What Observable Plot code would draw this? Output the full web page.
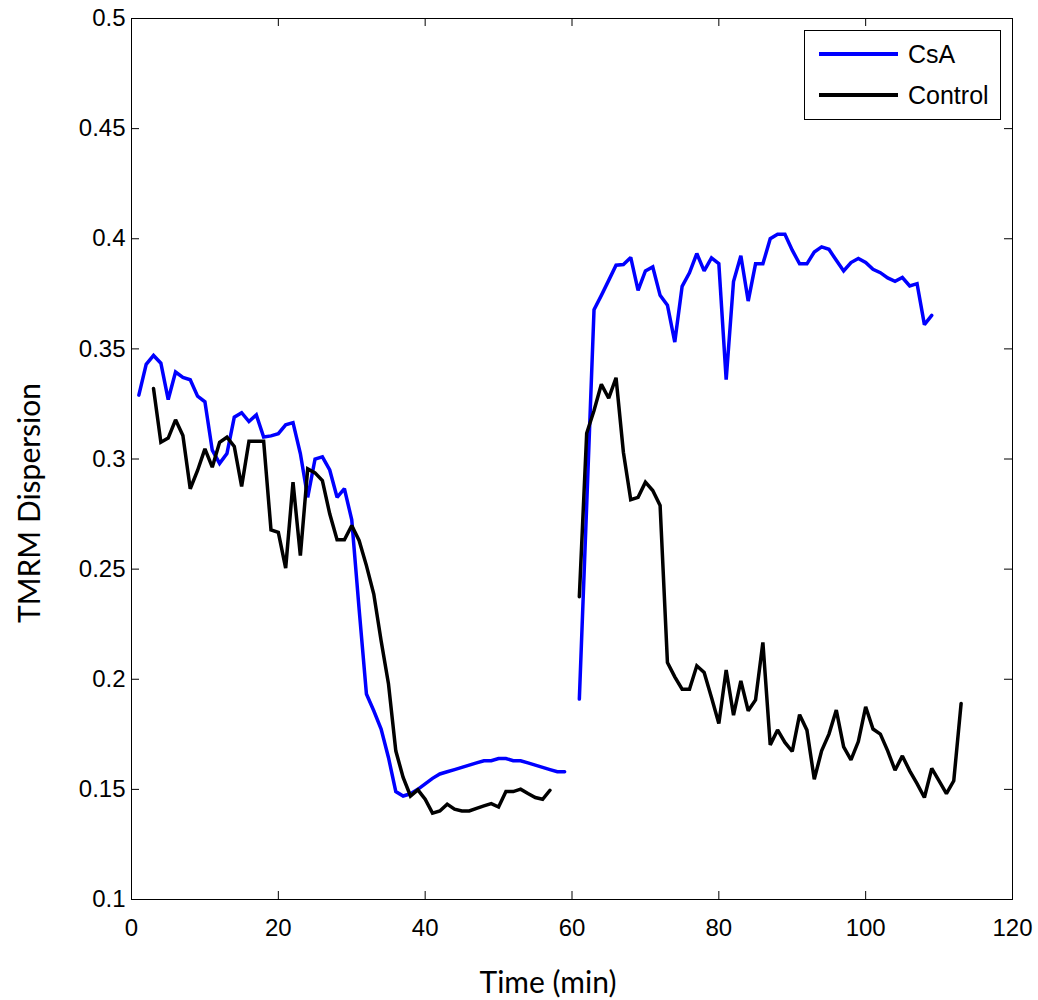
<!DOCTYPE html>
<html>
<head>
<meta charset="utf-8">
<script src="https://cdn.jsdelivr.net/npm/d3@7"></script>
<script src="https://cdn.jsdelivr.net/npm/@observablehq/plot@0.6"></script>
<style>
  body { margin: 0; background: #fff; }
  #wrap { position: relative; width: 1038px; height: 1000px; }
  .legend { position: absolute; left: 804px; top: 30px; width: 197px; height: 90px; border: 1px solid #000; box-sizing: border-box; background: #fff; font-family: "Liberation Sans", Arial, sans-serif; font-size: 25px; }
  .legend .row { position: absolute; left: 14px; height: 30px; display: flex; align-items: center; }
  .legend .sw { width: 79px; height: 3.5px; margin-right: 10px; }
</style>
</head>
<body>
<div id="wrap"></div>
<script>
const series = ["CsA", "Control"];
const colors = ["#0000ff", "#000000"];
const xTicks = [0, 20, 40, 60, 80, 100, 120];
const yTicks = [0.1, 0.15, 0.2, 0.25, 0.3, 0.35, 0.4, 0.45, 0.5];
const yTickLabels = ["0.1", "0.15", "0.2", "0.25", "0.3", "0.35", "0.4", "0.45", "0.5"];
const xLabel = "Time (min)";
const yLabel = "TMRM Dispersion";

// CsA, first recording (min 1-59)
const csaTime1 = [1,2,3,4,5,6,7,8,9,10,11,12,13,14,15,16,17,18,19,20,21,22,23,24,25,26,27,28,29,30,31,32,33,34,35,36,37,38,39,40,41,42,43,44,45,46,47,48,49,50,51,52,53,54,55,56,57,58,59];
const csaValue1 = [0.329,0.343,0.347,0.3435,0.327,0.3395,0.337,0.336,0.3285,0.326,0.304,0.298,0.3025,0.319,0.321,0.317,0.320,0.310,0.3105,0.3115,0.3155,0.3165,0.3025,0.2826,0.300,0.301,0.295,0.2826,0.2865,0.2724,0.232,0.1933,0.1857,0.1774,0.1645,0.149,0.147,0.148,0.150,0.1525,0.155,0.157,0.158,0.159,0.160,0.161,0.162,0.163,0.163,0.164,0.164,0.163,0.163,0.162,0.161,0.160,0.159,0.158,0.158];
// CsA, second recording (min 61-109)
const csaTime2 = [61,62,63,64,65,66,67,68,69,70,71,72,73,74,75,76,77,78,79,80,81,82,83,84,85,86,87,88,89,90,91,92,93,94,95,96,97,98,99,100,101,102,103,104,105,106,107,108,109];
const csaValue2 = [0.191,0.279,0.3678,0.3743,0.3811,0.388,0.3883,0.3915,0.3766,0.3854,0.3872,0.3743,0.3698,0.3531,0.3784,0.3845,0.3933,0.3854,0.3913,0.3887,0.336,0.3806,0.3923,0.3717,0.3886,0.3886,0.400,0.402,0.402,0.3948,0.3886,0.3886,0.394,0.3963,0.3952,0.3902,0.3854,0.3892,0.391,0.3892,0.3861,0.3846,0.3822,0.3807,0.3824,0.3786,0.3796,0.361,0.3652];

// Control, first recording (min 3-57)
const controlTime1 = [3,4,5,6,7,8,9,10,11,12,13,14,15,16,17,18,19,20,21,22,23,24,25,26,27,28,29,30,31,32,33,34,35,36,37,38,39,40,41,42,43,44,45,46,47,48,49,50,51,52,53,54,55,56,57];
const controlValue1 = [0.332,0.3076,0.3095,0.3178,0.3107,0.2865,0.2948,0.3046,0.2963,0.3076,0.3099,0.3057,0.2875,0.3081,0.3081,0.3081,0.2678,0.2667,0.2505,0.2895,0.2561,0.2955,0.2937,0.2902,0.2751,0.2633,0.2633,0.2698,0.2630,0.2516,0.2387,0.2175,0.198,0.1675,0.1554,0.147,0.1498,0.1455,0.1392,0.1402,0.1433,0.141,0.1402,0.1402,0.1414,0.1425,0.1435,0.142,0.149,0.149,0.1501,0.1481,0.1463,0.1455,0.1496];
// Control, second recording (min 61-113)
const controlTime2 = [61,62,63,64,65,66,67,68,69,70,71,72,73,74,75,76,77,78,79,80,81,82,83,84,85,86,87,88,89,90,91,92,93,94,95,96,97,98,99,100,101,102,103,104,105,106,107,108,109,110,111,112,113];
const controlValue2 = [0.2375,0.3117,0.322,0.3339,0.3276,0.3369,0.3031,0.2815,0.2826,0.2895,0.2857,0.2789,0.2076,0.2011,0.1955,0.1955,0.2061,0.2031,0.1917,0.1799,0.2042,0.1837,0.1993,0.1857,0.1906,0.2167,0.1702,0.177,0.1713,0.1672,0.1839,0.1769,0.1546,0.1675,0.1751,0.186,0.1693,0.1634,0.1717,0.1875,0.1774,0.1751,0.1675,0.1587,0.1652,0.1584,0.1526,0.1463,0.1595,0.1539,0.1481,0.1539,0.189];

function rows(name, seg, times, values) {
  return times.map((t, i) => ({series: name, seg: name + seg, time: t, value: values[i]}));
}
const csaRows = [...rows("CsA", 1, csaTime1, csaValue1), ...rows("CsA", 2, csaTime2, csaValue2)];
const controlRows = [...rows("Control", 1, controlTime1, controlValue1), ...rows("Control", 2, controlTime2, controlValue2)];

const W = 1038, H = 1000;
const mL = 131, mR = 26, mT = 18, mB = 101;
const innerW = W - mL - mR, innerH = H - mT - mB;
const tk = 8;

const plot = Plot.plot({
  width: W,
  height: H,
  marginLeft: mL, marginRight: mR, marginTop: mT, marginBottom: mB,
  style: {fontFamily: "'Liberation Sans', Arial, sans-serif", fontSize: "24px", background: "#fff", color: "#000"},
  x: {domain: [0, 120]},
  y: {domain: [0.1, 0.5]},
  color: {domain: series, range: colors},
  marks: [
    Plot.frame({stroke: "#000", strokeWidth: 1}),
    Plot.tickX(xTicks, {x: d => d, insetTop: innerH - tk, stroke: "#000"}),
    Plot.tickX(xTicks, {x: d => d, insetBottom: innerH - tk, stroke: "#000"}),
    Plot.tickY(yTicks, {y: d => d, insetRight: innerW - tk, stroke: "#000"}),
    Plot.tickY(yTicks, {y: d => d, insetLeft: innerW - tk, stroke: "#000"}),
    Plot.axisX(xTicks, {tickSize: 0, tickPadding: 19, label: null, fontSize: 24}),
    Plot.axisY(yTicks, {tickSize: 0, tickPadding: 6, label: null, fontSize: 24, tickFormat: (d, i) => yTickLabels[i]}),
    Plot.line(csaRows, {x: "time", y: "value", z: "seg", stroke: "series", strokeWidth: 3.5, strokeLinejoin: "miter", strokeMiterlimit: 2}),
    Plot.line(controlRows, {x: "time", y: "value", z: "seg", stroke: "series", strokeWidth: 3.5, strokeLinejoin: "miter", strokeMiterlimit: 2}),
    Plot.text([xLabel], {text: d => d, frameAnchor: "bottom", textAnchor: "middle", dx: -24, dy: 84, fontFamily: "Lato, 'Open Sans', sans-serif", fontSize: 30, lineAnchor: "middle"}),
    Plot.text([yLabel], {text: d => d, frameAnchor: "left", textAnchor: "middle", rotate: -90, dx: -101, dy: 44, fontFamily: "Lato, 'Open Sans', sans-serif", fontSize: 30, lineAnchor: "middle"})
  ]
});

const wrap = document.getElementById("wrap");
wrap.appendChild(plot);

const legend = document.createElement("div");
legend.className = "legend";
series.forEach((s, i) => {
  const row = document.createElement("div");
  row.className = "row";
  row.style.top = (8 + i * 41) + "px";
  const sw = document.createElement("div");
  sw.className = "sw";
  sw.style.background = colors[i];
  const lab = document.createElement("span");
  lab.textContent = s;
  row.appendChild(sw);
  row.appendChild(lab);
  legend.appendChild(row);
});
wrap.appendChild(legend);
</script>
</body>
</html>
